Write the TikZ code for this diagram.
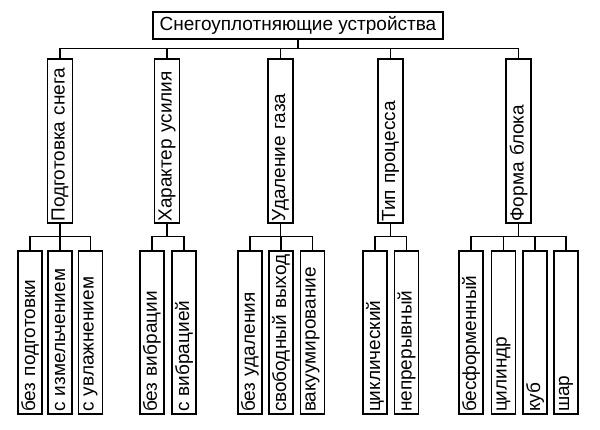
\documentclass[tikz,border=0pt]{standalone}
\usepackage{fontspec}
\setmainfont{Liberation Sans}
\usepackage{tikz}
\usetikzlibrary{positioning}

\begin{document}
\begin{tikzpicture}[x=1pt,y=1pt,semithick,
                    box/.style={draw,line width=1.5pt,inner sep=0pt,
                                font=\fontsize{19}{21}\selectfont},
                    head/.style={box,minimum width=290pt,minimum height=27pt},
                    group/.style={box,rotate=90,minimum height=25pt,
                                  text width=161pt,align=left,inner xsep=1.5pt},
                    leaf/.style={box,rotate=90,minimum height=24pt,
                                 text width=159pt,align=left,inner xsep=2pt},
                    wire/.style={line width=1.1pt}]
\useasboundingbox (0,0) rectangle (600,430);
\node[head] (su) at (298,404.5) {Снегоуплотняющие устройства};
\node[group] (k1) at (60,289)    {Подготовка снега};
\node[group] (k2) at (167,289)   {Характер усилия};
\node[group] (k3) at (280.5,289) {Удаление газа};
\node[group] (k4) at (390.5,289) {Тип процесса};
\node[group] (k5) at (518.5,289) {Форма блока};
\node[leaf] (k11) at (30,97.5)    {без подготовки};
\node[leaf] (k12) at (60,97.5)    {с измельчением};
\node[leaf] (k13) at (90.5,97.5)  {с увлажнением};
\node[leaf] (k21) at (152,97.5)   {без вибрации};
\node[leaf] (k22) at (184,97.5)   {с вибрацией};
\node[leaf] (k31) at (250,97.5)   {без удаления};
\node[leaf] (k32) at (281,97.5)   {свободный выход};
\node[leaf] (k33) at (312.5,97.5) {вакуумирование};
\node[leaf] (k41) at (375,97.5)   {циклический};
\node[leaf] (k42) at (406.5,97.5) {непрерывный};
\node[leaf] (k51) at (471,97.5)   {бесформенный};
\node[leaf] (k52) at (503.5,97.5) {цилиндр};
\node[leaf] (k53) at (535,97.5)   {куб};
\node[leaf] (k54) at (566,97.5)   {шар};
\foreach \k in {1,...,5}
  \draw[wire] (k\k.east) -- ++(0,9.5) -| (su.south);
\foreach \k/\l in {1/1,1/2,1/3,2/1,2/2,3/1,3/2,3/3,4/1,4/2,5/1,5/2,5/3,5/4}
  \draw[wire] (k\k\l.east) -- ++(0,14) -| (k\k.west);
\end{tikzpicture}
\end{document}
